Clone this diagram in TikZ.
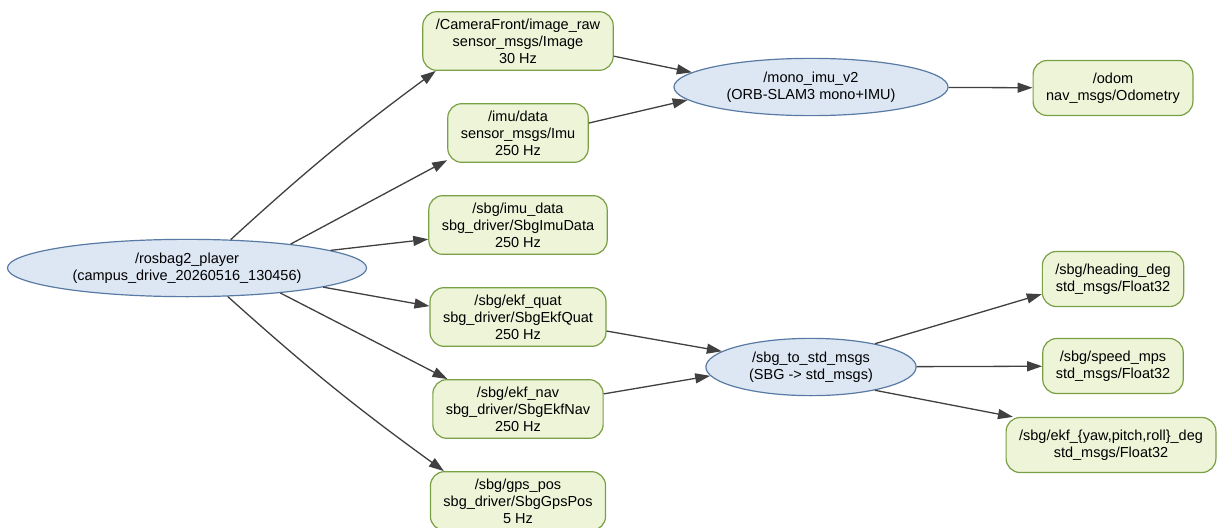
\documentclass[tikz,border=0pt]{standalone}
\usepackage{fontspec}
\setmainfont{Liberation Sans}
\usetikzlibrary{arrows.meta, positioning, shapes.geometric}

\definecolor{topicfill}{RGB}{237,244,216}
\definecolor{topicline}{RGB}{122,160,70}
\definecolor{nodefill}{RGB}{221,231,244}
\definecolor{nodeline}{RGB}{88,122,164}
\definecolor{edgegray}{RGB}{64,64,64}

\begin{document}
\begin{tikzpicture}[x=1pt, y=-1pt, node distance=92pt, on grid,
  >={Triangle[length=15pt,width=10pt]},
  topic/.style={draw=topicline, fill=topicfill, line width=1.2pt,
    rounded corners=14pt, align=center, inner xsep=13pt, inner ysep=7pt,
    minimum height=55pt, font=\fontsize{14.5}{17}\selectfont},
  rosnode/.style={ellipse, draw=nodeline, fill=nodefill, line width=1.2pt,
    align=center, inner xsep=12.5pt, inner ysep=5pt,
    font=\fontsize{14.5}{17}\selectfont},
  every edge/.style={draw=edgegray, line width=1.3pt}]

  \useasboundingbox[fill=white] (0,0) rectangle (1217,527);

  % Nodes (ellipses)
  \node[rosnode] (player) at (187,268) {/rosbag2\_player\\(campus\_drive\_20260516\_130456)};
  \node[rosnode] (mono) at (811,87) {/mono\_imu\_v2\\(ORB-SLAM3 mono+IMU)};
  \node[rosnode] (tostd) at (811,367) {/sbg\_to\_std\_msgs\\(SBG -> std\_msgs)};

  % Topics published by the player, one column
  \node[topic] (cam) at (518,41) {/CameraFront/image\_raw\\sensor\_msgs/Image\\30 Hz};
  \node[topic, below=of cam] (imu) {/imu/data\\sensor\_msgs/Imu\\250 Hz};
  \node[topic, below=of imu] (sbgimu) {/sbg/imu\_data\\sbg\_driver/SbgImuData\\250 Hz};
  \node[topic, below=of sbgimu] (quat) {/sbg/ekf\_quat\\sbg\_driver/SbgEkfQuat\\250 Hz};
  \node[topic, below=of quat] (nav) {/sbg/ekf\_nav\\sbg\_driver/SbgEkfNav\\250 Hz};
  \node[topic, below=of nav] (gps) {/sbg/gps\_pos\\sbg\_driver/SbgGpsPos\\5 Hz};

  % Output topics
  \node[topic] (odom) at (1113,88) {/odom\\nav\_msgs/Odometry};
  \node[topic] (heading) at (1113,279) {/sbg/heading\_deg\\std\_msgs/Float32};
  \node[topic] (speed) at (1113,366) {/sbg/speed\_mps\\std\_msgs/Float32};
  \node[topic] (ekfdeg) at (1111,445) {/sbg/ekf\_\{yaw,pitch,roll\}\_deg\\std\_msgs/Float32};

  % player -> topics
  \path[->] (player.33) edge[bend left=3] (cam.200);
  \path[->] (player.13) edge (imu.201);
  \path[->] (player.7) edge (sbgimu.189);
  \path[->] (player.-8) edge (quat.173);
  \path[->] (player.-15) edge (nav.157);
  \path[->] (player.-35) edge[bend right=3] (gps.158);

  % topics -> mono_imu_v2
  \path[->] (cam.-9) edge (mono.173);
  \path[->] (imu.8) edge (mono.186);
  \path[->] (mono) edge (odom);

  % topics -> sbg_to_std_msgs
  \path[->] (quat.-9) edge (tostd.170);
  \path[->] (nav.10) edge (tostd.185);
  \path[->] (tostd.20) edge (heading.192);
  \path[->] (tostd) edge (speed);
  \path[->] (tostd.-20) edge (ekfdeg.164);

\end{tikzpicture}
\end{document}
